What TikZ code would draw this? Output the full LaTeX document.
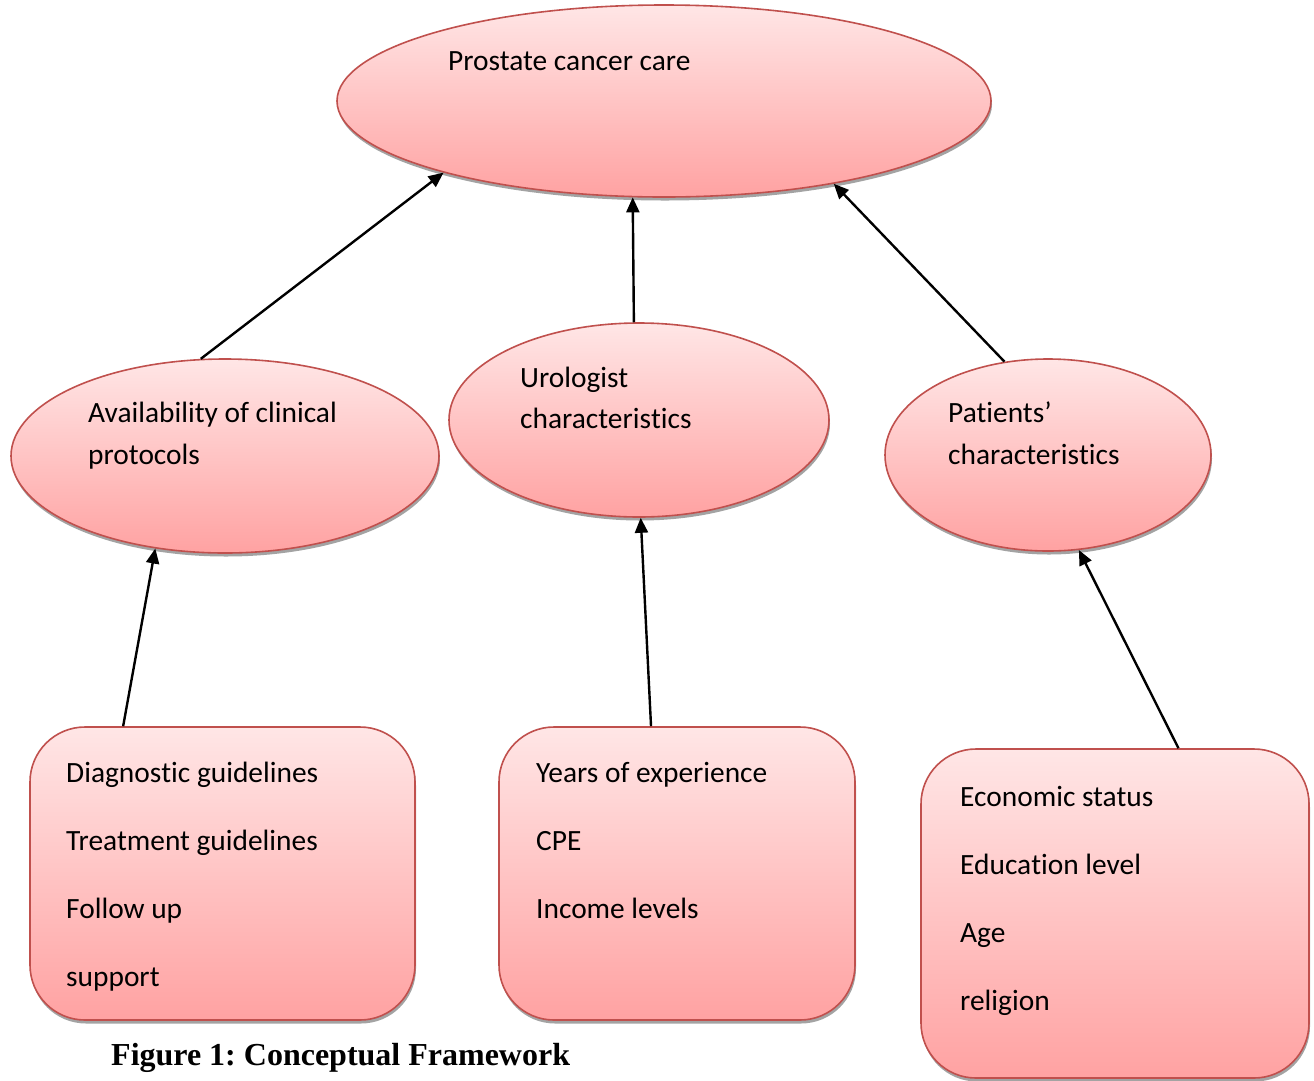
\documentclass[tikz,border=0pt]{standalone}
\usepackage{fontspec}
\setmainfont{Carlito}[RawFeature={-liga;-dlig;-clig}]
\newfontfamily\capfont{Liberation Serif}
\usetikzlibrary{shapes.geometric,arrows.meta,shadows}
\definecolor{pinktop}{RGB}{255,230,230}
\definecolor{pinkbot}{RGB}{255,162,162}
\definecolor{edgered}{RGB}{192,80,77}
\frenchspacing
\newcommand{\nolig}{\kern0pt}
\tikzset{
  shade/.style={drop shadow={shadow xshift=1pt,shadow yshift=-3.5pt,fill=black!45,opacity=0.8}},
  oval/.style={ellipse,draw=edgered,line width=1.6pt,top color=pinktop,bottom color=pinkbot,inner sep=0pt,shade},
  card/.style={rectangle,rounded corners=55pt,draw=edgered,line width=1.6pt,top color=pinktop,bottom color=pinkbot,inner sep=0pt,shade},
  txt/.style={anchor=base west,inner sep=0pt,font=\fontsize{29.4}{35}\selectfont},
  link/.style={line width=2.4pt,-{Triangle[length=15pt,width=13pt]}}
}
\begin{document}
\begin{tikzpicture}[x=1pt,y=-1pt]
\useasboundingbox[fill=white] (0,0) rectangle (1314,1080);
% ellipses
\node[oval,minimum width=654pt,minimum height=192pt] (top) at (664,101) {};
\node[oval,minimum width=428pt,minimum height=194pt] (avail) at (225,456) {};
\node[oval,minimum width=380pt,minimum height=194pt] (uro) at (639,420) {};
\node[oval,minimum width=326pt,minimum height=192pt] (pat) at (1048,455) {};
% boxes
\node[card,minimum width=385pt,minimum height=293pt] (lbox) at (222.5,873.5) {};
\node[card,minimum width=356pt,minimum height=293pt] (mbox) at (677,873.5) {};
\node[card,minimum width=388pt,minimum height=329pt] (rbox) at (1115,913.5) {};
% texts
\node[txt] (t0) at (448,70) {Prostate cancer care};
\node[txt] (t1a) at (88,422) {Availability of clinical};
\node[txt] (t1b) at (88,464) {protocols};
\node[txt] (t2a) at (520,387) {Urologist};
\node[txt] (t2b) at (520,428) {characteris\nolig tics};
\node[txt] (t3a) at (948,422) {Patients’};
\node[txt] (t3b) at (948,464) {characteris\nolig tics};
\node[txt] (l1) at (66,782) {Diagnos\nolig tic guidelines};
\node[txt] (l2) at (66,850) {Treatment guidelines};
\node[txt] (l3) at (66,918) {Follow up};
\node[txt] (l4) at (66,986) {support};
\node[txt] (m1) at (536,782) {Years of experience};
\node[txt] (m2) at (536,850) {CPE};
\node[txt] (m3) at (536,918) {Income levels};
\node[txt] (r1) at (960,806) {Economic status};
\node[txt] (r2) at (960,874) {Educa\nolig tion level};
\node[txt] (r3) at (960,942) {Age};
\node[txt] (r4) at (960,1010) {religion};
\node[anchor=base west,inner sep=0pt,font=\capfont\bfseries\fontsize{32}{38}\selectfont] (cap) at (111,1065) {Figure 1: Conceptual Framework};
% arrows
\draw[link] (avail.104) -- (top.198);
\draw[link] (uro.93.5) -- (top.252);
\draw[link] (pat.115.6) -- (top.334);
\draw[link] (lbox.124.2) -- (avail.233.5);
\draw[link] (mbox.100.1) -- (uro.271.2);
\draw[link] (rbox.69.3) -- (pat.288.2);
\end{tikzpicture}
\end{document}
